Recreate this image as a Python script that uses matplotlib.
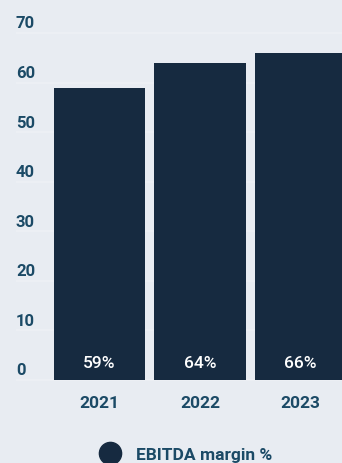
import matplotlib
matplotlib.use('Agg')
import matplotlib.pyplot as plt
from matplotlib.lines import Line2D

years = ['2021', '2022', '2023']
ebitda_margin = [59, 64, 66]
y_ticks = [0, 10, 20, 30, 40, 50, 60, 70]
series_name = 'EBITDA margin %'

BG = '#e8ecf2'
BAR = '#162a40'
LABEL = '#1b4a66'
GRID = '#edf0f5'

plt.rcParams['font.family'] = ['Roboto', 'DejaVu Sans']

fig = plt.figure(figsize=(3.42, 4.64), dpi=100, facecolor=BG)
ax = fig.add_axes([49 / 342, 1 - 381 / 464, 1 - 49 / 342, 347 / 464])
ax.set_facecolor(BG)

x = list(range(len(years)))
ax.set_xlim(-0.5, 2.41)
ax.set_ylim(0, 70)

# grid lines run out under the tick labels
ax.hlines(y_ticks, -33 / 293, 1, transform=ax.get_yaxis_transform(),
          colors=GRID, lw=1.3, clip_on=False, zorder=0)

ax.bar(x, ebitda_margin, width=0.905, color=BAR, zorder=2)

for v in y_ticks:
    ax.annotate(str(v), xy=(0, v), xycoords=('axes fraction', 'data'),
                xytext=(-33, 10), textcoords='offset pixels',
                ha='left', va='center', fontsize=12, fontweight='bold',
                color=LABEL, annotation_clip=False)

for xi, v in zip(x, ebitda_margin):
    ax.annotate(f'{v}%', xy=(xi, 0), xytext=(0, 17), textcoords='offset pixels',
                ha='center', va='center', fontsize=12.5, fontweight='medium',
                color='white', zorder=3)

ax.set_xticks(x)
ax.set_xticklabels(years, fontsize=12.5, fontweight='bold', color=LABEL)
ax.tick_params(axis='x', length=0, pad=11)
ax.set_yticks([])
for s in ax.spines.values():
    s.set_visible(False)

handle = Line2D([], [], marker='o', linestyle='none', markersize=16,
                markerfacecolor=BAR, markeredgecolor=BAR)
fig.legend([handle], [series_name], loc='center left',
           bbox_to_anchor=(93 / 342, 1 - 455 / 464), frameon=False,
           borderpad=0, handletextpad=0.45, borderaxespad=0,
           prop={'size': 12.5, 'weight': 'bold'}, labelcolor=LABEL)

fig.savefig('out.png', dpi=100, facecolor=BG)
